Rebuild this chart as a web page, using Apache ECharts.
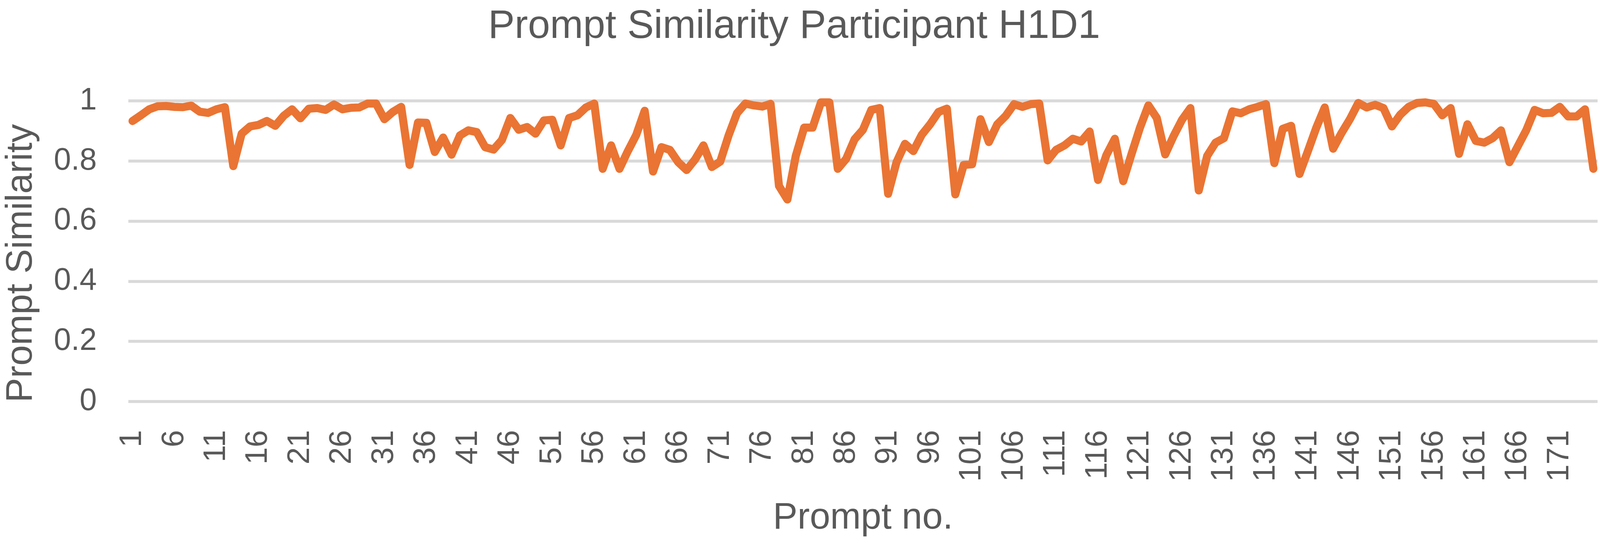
<!DOCTYPE html>
<html>
<head>
<meta charset="utf-8">
<script src="https://cdn.jsdelivr.net/npm/echarts@6/dist/echarts.min.js"></script>
<style>
html,body{margin:0;padding:0;background:#fff;overflow:hidden;}
#chart{width:100vw;height:100vh;}
</style>
</head>
<body>
<div id="chart"></div>
<script>
const chartTitle = 'Prompt Similarity Participant H1D1';
const xAxisTitle = 'Prompt no.';
const yAxisTitle = 'Prompt Similarity';

const similarity = [
  0.933, 0.952, 0.972, 0.982, 0.983, 0.980, 0.979, 0.984, 0.964, 0.960,
  0.972, 0.979, 0.783, 0.891, 0.915, 0.920, 0.933, 0.917, 0.950, 0.972,
  0.942, 0.974, 0.976, 0.970, 0.988, 0.972, 0.977, 0.978, 0.991, 0.991,
  0.939, 0.963, 0.980, 0.787, 0.928, 0.927, 0.830, 0.878, 0.821, 0.885,
  0.902, 0.896, 0.846, 0.838, 0.870, 0.943, 0.904, 0.913, 0.891, 0.935,
  0.937, 0.852, 0.943, 0.952, 0.978, 0.991, 0.774, 0.852, 0.774, 0.833,
  0.887, 0.967, 0.765, 0.846, 0.837, 0.796, 0.770, 0.805, 0.852, 0.780,
  0.798, 0.885, 0.959, 0.991, 0.985, 0.981, 0.990, 0.717, 0.672, 0.817,
  0.911, 0.911, 0.995, 0.995, 0.774, 0.807, 0.872, 0.904, 0.970, 0.976,
  0.691, 0.796, 0.857, 0.833, 0.887, 0.922, 0.963, 0.974, 0.689, 0.787,
  0.789, 0.939, 0.863, 0.922, 0.950, 0.989, 0.980, 0.989, 0.991, 0.802,
  0.837, 0.852, 0.874, 0.865, 0.898, 0.737, 0.820, 0.874, 0.733, 0.824,
  0.911, 0.985, 0.943, 0.822, 0.883, 0.937, 0.976, 0.702, 0.817, 0.861,
  0.876, 0.965, 0.959, 0.972, 0.980, 0.989, 0.793, 0.907, 0.917, 0.757,
  0.833, 0.911, 0.978, 0.841, 0.893, 0.939, 0.993, 0.978, 0.987, 0.976,
  0.915, 0.954, 0.980, 0.993, 0.995, 0.990, 0.952, 0.976, 0.824, 0.922,
  0.867, 0.861, 0.876, 0.902, 0.796, 0.849, 0.902, 0.970, 0.959, 0.960,
  0.980, 0.948, 0.948, 0.972, 0.774
];

const promptNumbers = similarity.map((_, i) => String(i + 1));

const yMin = 0, yMax = 1, yStep = 0.2;

const textColor = '#595959';
const gridColor = '#d9d9d9';
const lineColor = '#EA7433';
const fontFamily = '"Liberation Sans", Arial, sans-serif';

const el = document.getElementById('chart');
const W = el.clientWidth || window.innerWidth;
const H = el.clientHeight || window.innerHeight;
const sx = W / 4611;
const sy = H / 1394;
const s = Math.sqrt(sx * sy);

const chart = echarts.init(el, null, {renderer: 'canvas'});
chart.setOption({
  backgroundColor: '#ffffff',
  animation: false,
  title: {
    text: chartTitle,
    left: 2283 * sx,
    textAlign: 'center',
    top: 13 * sy,
    textStyle: {color: textColor, fontSize: 108 * s, fontWeight: 'normal', fontFamily: fontFamily}
  },
  grid: {left: 361 * sx, right: 7 * sx, top: 258 * sy, bottom: 367 * sy, containLabel: false},
  xAxis: {
    type: 'category',
    data: promptNumbers,
    boundaryGap: true,
    name: xAxisTitle,
    nameLocation: 'middle',
    nameGap: 252 * sy,
    nameTextStyle: {color: textColor, fontSize: 100 * s, fontFamily: fontFamily},
    axisLine: {show: false},
    axisTick: {show: false},
    axisLabel: {
      interval: 4,
      rotate: 90,
      margin: 73 * sy,
      color: textColor,
      fontSize: 84 * s,
      fontFamily: fontFamily
    },
    splitLine: {show: false}
  },
  yAxis: {
    type: 'value',
    min: yMin,
    max: yMax,
    interval: yStep,
    name: yAxisTitle,
    nameLocation: 'middle',
    nameRotate: 90,
    nameGap: 255 * sx,
    nameTextStyle: {color: textColor, fontSize: 100 * s, fontFamily: fontFamily, padding: [0, 62 * sy, 0, 0]},
    axisLine: {show: false},
    axisTick: {show: false},
    axisLabel: {color: textColor, fontSize: 84 * s, margin: 91 * sx, fontFamily: fontFamily},
    splitLine: {show: true, lineStyle: {color: gridColor, width: 8 * s}}
  },
  series: [{
    type: 'line',
    data: similarity,
    showSymbol: false,
    symbol: 'none',
    lineStyle: {color: lineColor, width: 22 * s, join: 'round', cap: 'round'},
    itemStyle: {color: lineColor}
  }]
});
</script>
</body>
</html>
